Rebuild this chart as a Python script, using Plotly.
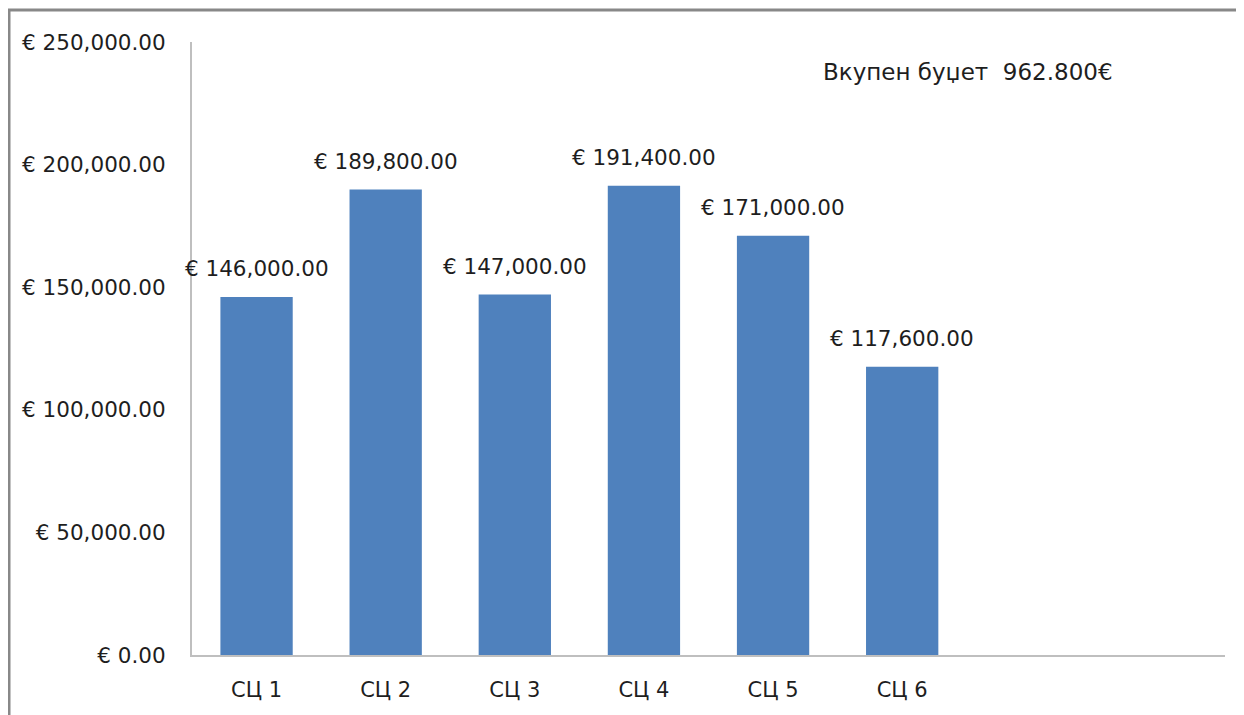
import plotly.graph_objects as go

categories = ["СЦ 1", "СЦ 2", "СЦ 3", "СЦ 4", "СЦ 5", "СЦ 6"]
values = [146000, 189800, 147000, 191400, 171000, 117600]
y_ticks = [0, 50000, 100000, 150000, 200000, 250000]
y_tick_labels = ["€ 0.00", "€ 50,000.00", "€ 100,000.00", "€ 150,000.00", "€ 200,000.00", "€ 250,000.00"]
total_label = "Вкупен буџет  962.800€"

OFF = 8  # page body offset
W, H = 1244 - OFF, 715 - OFF
ml, mr, mt, mb = 192 - OFF, 19, 42 - OFF, 60
pw, ph = W - ml - mr, H - mt - mb

font = "DejaVu Sans, Open Sans, sans-serif"
txtcolor = "#1e1e1e"

fig = go.Figure()
fig.add_trace(go.Bar(
    x=categories, y=values,
    marker=dict(color="#4F81BD", line=dict(width=0)),
    hoverinfo="x+y",
))

annotations = [dict(
    x=c, y=v, xref="x", yref="y",
    text=f"€ {v:,.2f}", showarrow=False,
    xanchor="center", yanchor="bottom", yshift=14,
    font=dict(size=21.5, color=txtcolor, family=font),
) for c, v in zip(categories, values)]

annotations.append(dict(
    text=total_label, xref="paper", yref="paper",
    x=(968 - 192) / pw, y=1 - (72 - 42) / ph,
    xanchor="center", yanchor="middle", showarrow=False,
    font=dict(size=23, color=txtcolor, family=font),
))

fig.update_layout(
    width=W, height=H,
    margin=dict(l=ml, r=mr, t=mt, b=mb),
    paper_bgcolor="white", plot_bgcolor="white",
    font=dict(family=font, size=21, color=txtcolor),
    bargap=0.44,
    showlegend=False,
    xaxis=dict(
        type="category", range=[-0.5, 7.5],
        showline=True, linecolor="#BFBFBF", linewidth=2,
        showgrid=False, ticks="", ticklabelstandoff=15,
        tickfont=dict(size=21),
    ),
    yaxis=dict(
        range=[0, 250000], tickvals=y_ticks, ticktext=y_tick_labels,
        showline=True, linecolor="#BFBFBF", linewidth=2,
        showgrid=False, zeroline=False, ticks="", ticklabelstandoff=20,
        tickfont=dict(size=21.5),
    ),
    annotations=annotations,
    shapes=[
        dict(type="line", xref="paper", yref="paper",
             x0=(0 - ml) / pw, x1=(W + 5 - ml) / pw,
             y0=1 + (mt - 2) / ph, y1=1 + (mt - 2) / ph,
             line=dict(color="#888888", width=3)),
        dict(type="line", xref="paper", yref="paper",
             x0=(1 - ml) / pw, x1=(1 - ml) / pw,
             y0=1 + (mt - 2) / ph, y1=-(H + 5 - mt - ph) / ph,
             line=dict(color="#888888", width=3)),
    ],
)

fig.write_html("out.html")
